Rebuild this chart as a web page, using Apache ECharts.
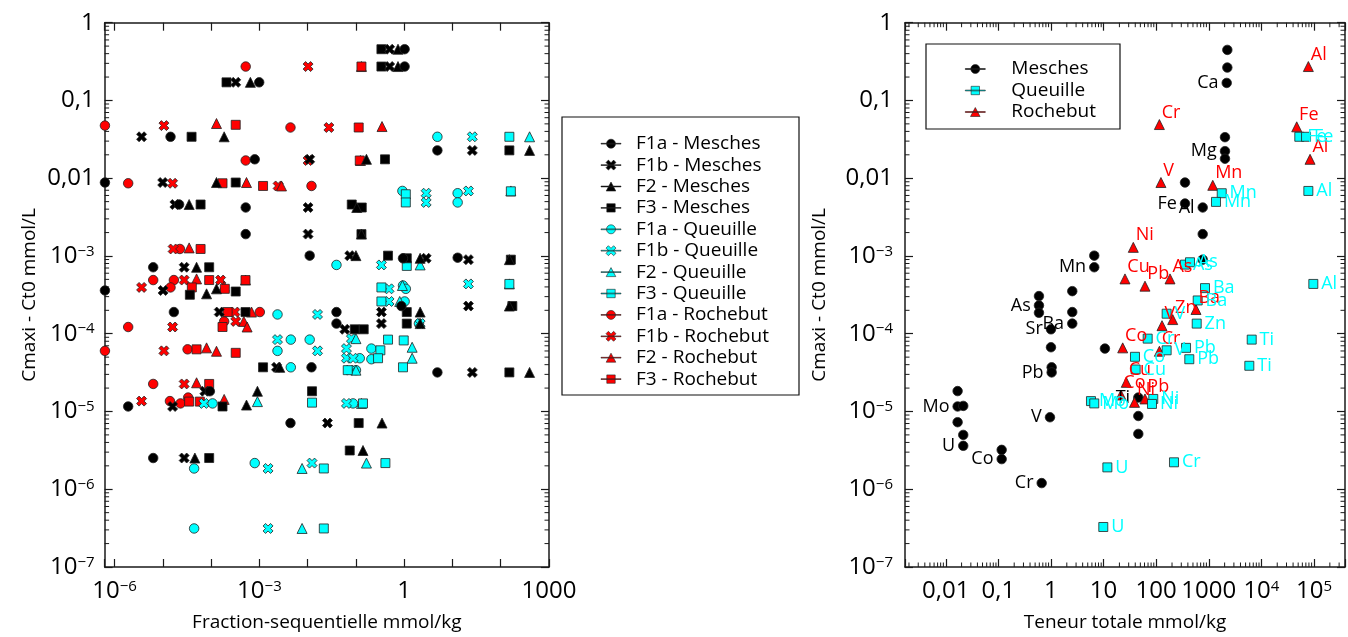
<!DOCTYPE html>
<html>
<head>
<meta charset="utf-8">
<script src="https://cdn.jsdelivr.net/npm/echarts@6/dist/echarts.min.js"></script>
<style>html,body{margin:0;padding:0;background:#fff;}#c{width:1348px;height:637px;}</style>
</head>
<body>
<div id="c"></div>
<script>
// ---------- Left panel: fraction-sequentielle vs Cmaxi-Ct0 ----------
const mesF1a = [[1.02,0.456],[1.02,0.273],[9.9e-4,0.171],[1.44e-5,0.0341],[4.87,0.0228],[8.0e-4,0.0175],[6.3e-7,0.0088],[2.17e-5,0.00459],[5.2e-4,0.0042],[5.2e-4,0.00191],[0.011,0.00101],[0.944,0.000934],[12.8,0.00095],[6.3e-6,0.000716],[6.3e-7,0.00036],[1.69e-5,0.00019],[0.0395,0.00019],[0.875,0.000227],[0.0395,0.000135],[0.012,3.7e-5],[4.87,3.18e-5],[1.91e-6,1.16e-5],[9.4e-5,1.82e-5],[4.4e-3,7.1e-6],[6.3e-6,2.52e-6]];
const mesF1b = [[0.50,0.456],[0.50,0.273],[3.23e-4,0.171],[3.62e-6,0.0341],[25.8,0.0228],[0.011,0.0175],[9.9e-6,0.0088],[1.77e-5,0.00459],[0.0102,0.0042],[0.0102,0.00191],[0.0744,0.00101],[2.85,0.000934],[21.4,0.000897],[2.76e-5,0.000716],[1.01e-5,0.00036],[1.47e-4,0.00019],[0.337,0.00019],[21.4,0.000227],[0.337,0.000135],[2.26e-3,3.7e-5],[25.8,3.18e-5],[1.59e-5,1.16e-5],[7.4e-5,1.82e-5],[0.0257,7.1e-6],[2.76e-5,2.52e-6],[0.0586,0.000114]];
const mesF2 = [[0.744,0.456],[0.744,0.273],[6.5e-4,0.171],[1.86e-4,0.0341],[396,0.0228],[0.165,0.0175],[1.29e-4,0.0088],[3.5e-5,0.00459],[0.104,0.0042],[0.13,0.00191],[0.1,0.00101],[2.14,0.000934],[151,0.000897],[4.99e-5,0.000716],[8.04e-5,0.000326],[1.29e-4,0.000378],[2.14,0.00019],[151,0.000227],[2.14,0.000135],[2.64e-3,3.7e-5],[396,3.18e-5],[5.4e-4,1.21e-5],[9.1e-4,1.82e-5],[0.347,7.1e-6],[4.6e-5,2.52e-6],[0.14,3.15e-6]];
const mesF3 = [[0.337,0.456],[0.337,0.273],[2.08e-4,0.171],[3.93e-5,0.0341],[151,0.0228],[0.40,0.0175],[3.23e-4,0.0088],[6.04e-5,0.00459],[0.132,0.0042],[0.13,0.00191],[0.462,0.00101],[1.13,0.000934],[162,0.000897],[9.1e-5,0.000716],[3.62e-5,0.000317],[3.23e-4,0.000349],[5.15e-4,0.00019],[1.13,0.00019],[174,0.000227],[1.13,0.000135],[1.19e-3,3.7e-5],[151,3.18e-5],[1.72e-4,1.16e-5],[0.0123,1.82e-5],[0.114,7.1e-6],[9.1e-5,2.52e-6],[0.0744,3.15e-6],[0.0944,0.000114],[0.145,0.000114],[0.0819,0.00459]];
const queF1a = [[4.87,0.0341],[0.918,0.00686],[12.8,0.00641],[12.8,0.00488],[0.0395,0.000767],[0.944,0.000417],[1.08,0.000378],[2.37e-3,0.000177],[4.47e-3,8.4e-5],[0.011,8.4e-5],[2.37e-3,6.02e-5],[4.47e-3,3.7e-5],[0.209,6.44e-5],[0.12,4.84e-5],[0.209,4.7e-5],[1.07e-4,1.27e-5],[0.0871,1.27e-5],[4.44e-5,1.85e-6],[8.0e-4,2.17e-6],[4.44e-5,3.13e-7],[1.02,0.00026],[2.02,0.000135],[0.1,3.4e-5]];
const queF1b = [[25.8,0.0341],[2.85,0.00641],[2.85,0.00488],[21.4,0.00686],[0.337,0.000767],[0.485,0.000378],[0.485,0.00026],[21.4,0.000437],[0.016,0.000177],[2.37e-3,8.4e-5],[0.016,6.02e-5],[0.0807,8.65e-5],[0.0636,6.44e-5],[0.0636,4.84e-5],[0.0871,4.84e-5],[0.0744,3.4e-5],[0.0636,1.27e-5],[7.07e-5,1.27e-5],[1.51e-3,1.85e-6],[0.0123,2.17e-6],[1.51e-3,3.13e-7],[2.14,0.000135]];
const queF2 = [[396,0.0341],[162,0.00686],[2.14,0.000767],[151,0.000437],[0.807,0.00026],[0.918,0.000417],[0.1,8.65e-5],[1.46,6.7e-5],[1.46,4.84e-5],[0.1,3.4e-5],[0.13,1.27e-5],[9.1e-4,1.34e-5],[7.66e-3,1.85e-6],[0.165,2.17e-6],[7.66e-3,3.13e-7]];
const queF3 = [[151,0.0341],[1.08,0.00622],[1.08,0.00488],[162,0.00679],[1.13,0.000745],[151,0.000437],[0.337,0.000394],[0.337,0.00026],[0.462,8.4e-5],[0.977,8.2e-5],[0.321,6.12e-5],[0.287,4.84e-5],[0.944,3.7e-5],[0.0676,3.4e-5],[0.14,1.27e-5],[0.0123,1.3e-5],[0.0216,1.85e-6],[0.408,2.17e-6],[0.0216,3.13e-7]];
const rocF1a = [[5.2e-4,0.273],[6.3e-7,0.0475],[4.4e-3,0.0449],[5.2e-4,0.0169],[1.91e-6,0.00861],[0.012,0.00795],[2.25e-5,0.00123],[6.3e-6,0.00049],[1.69e-5,0.00049],[1.44e-5,0.000394],[1.02e-3,0.00019],[1.91e-6,0.000122],[1.86e-4,0.000144],[6.3e-7,6.02e-5],[3.25e-5,6.3e-5],[6.3e-6,2.26e-5],[1.4e-5,1.36e-5],[2.32e-5,1.27e-5],[3.34e-5,1.51e-5]];
const rocF1b = [[0.0102,0.273],[1.05e-5,0.0475],[0.0275,0.0449],[0.0102,0.0169],[1.59e-5,0.00861],[2.44e-3,0.00795],[1.63e-5,0.00123],[2.76e-5,0.00049],[1.57e-4,0.00049],[3.62e-6,0.000394],[3.1e-4,0.00019],[1.59e-5,0.000122],[3.23e-4,0.000144],[1.05e-5,6.02e-5],[2.76e-5,2.26e-5],[3.62e-6,1.36e-5]];
const rocF2 = [[0.13,0.273],[1.29e-4,0.0505],[0.347,0.0462],[0.124,0.0169],[5.4e-4,0.0088],[2.87e-3,0.00795],[3.5e-5,0.00127],[4.99e-5,0.000507],[5.15e-4,0.00049],[1.86e-4,0.000409],[6.86e-4,0.00019],[4.75e-4,0.000144],[5.56e-4,0.000122],[8.04e-5,6.58e-5],[1.29e-4,5.95e-5],[4.99e-5,2.34e-5],[1.86e-4,1.43e-5]];
const rocF3 = [[0.13,0.273],[3.23e-4,0.0486],[0.114,0.0449],[0.12,0.0169],[1.72e-4,0.00861],[1.19e-3,0.00795],[6.04e-5,0.00123],[9.1e-5,0.00049],[5.15e-4,0.00049],[3.98e-5,0.000394],[1.92e-4,0.000378],[2.19e-4,0.00019],[1.72e-4,0.000122],[4.99e-5,6.3e-5],[3.23e-4,5.68e-5],[9.1e-5,2.26e-5],[3.5e-5,1.34e-5],[5.83e-5,1.34e-5]];

// ---------- Right panel: teneur totale vs Cmaxi-Ct0 (x, y, element label) ----------
const totMesches = [[2250,0.447,''],[2250,0.265,''],[2190,0.168,'Ca'],[2030,0.0337,''],[2030,0.0223,'Mg'],[2030,0.0178,''],[353,0.0088,''],[353,0.00473,'Fe'],[766,0.0042,'Al'],[766,0.00191,''],[766,0.000897,''],[10.6,6.44e-5,''],[45.7,1.51e-5,'Ti'],[45.7,8.75e-6,''],[45.7,5.15e-6,''],[6.65,0.00101,''],[6.65,0.000716,'Mn'],[2.54,3.53e-4,''],[2.54,1.9e-4,''],[2.54,1.35e-4,'Ba'],[0.591,3.05e-4,''],[0.591,2.31e-4,'As'],[0.591,1.86e-4,''],[1.0,1.14e-4,'Sr'],[1.0,6.7e-5,''],[1.03,3.7e-5,''],[1.03,3.18e-5,'Pb'],[0.957,8.43e-6,'V'],[0.0168,1.83e-5,''],[0.0168,1.16e-5,'Mo'],[0.0215,1.18e-5,''],[0.0168,7.28e-6,''],[0.0215,5.0e-6,''],[0.0215,3.62e-6,'U'],[0.1156,3.21e-6,''],[0.1156,2.44e-6,'Co'],[0.666,1.2e-6,'Cr']];
const totQueuille = [[52500,0.0341,'Fe'],[70500,0.0341,'Fe'],[78000,0.00686,'Al'],[1760,0.00641,'Mn'],[1370,0.00496,'Mn'],[353,7.74e-4,'As'],[439,8.3e-4,'As'],[847,3.86e-4,'Ba'],[615,2.68e-4,'Ba'],[158,1.81e-4,'V'],[589,1.35e-4,'Zn'],[68.9,8.65e-5,'Cr'],[158,6.12e-5,'V'],[369,6.58e-5,'Pb'],[426,4.7e-5,'Pb'],[39.5,5.05e-5,'Co'],[40.7,3.47e-5,'Cu'],[88,1.45e-5,'Ni'],[83.2,1.25e-5,'Ni'],[5.76,1.36e-5,'Mo'],[6.65,1.27e-5,'Mo'],[11.8,1.91e-6,'U'],[9.87,3.27e-7,'U'],[218,2.22e-6,'Cr'],[6540,8.4e-5,'Ti'],[5890,3.87e-5,'Ti'],[97000,4.37e-4,'Al']];
const totRochebut = [[78000,0.273,'Al'],[115,0.049,'Cr'],[46900,0.0458,'Fe'],[84000,0.0175,'Al'],[123,0.0088,'V'],[1190,0.0081,'Mn'],[36.7,0.00129,'Ni'],[25.5,5.07e-4,'Cu'],[61.2,4.09e-4,'Pb'],[183,5.07e-4,'As'],[571,2.05e-4,'Ba'],[206,1.52e-4,'Zn'],[129,1.27e-4,'V'],[23.1,6.58e-5,'Co'],[115,5.95e-5,'Cr'],[27,2.37e-5,'Cu'],[21.4,1.63e-5,'Co'],[38.7,1.31e-5,'Ni'],[61.2,1.45e-5,'Pb']];

// ---------- Axis ranges & tick labels ----------
const leftXRange = [6.2e-7, 1000];
const rightXRange = [1.68e-3, 3.88e5];
const yRange = [1e-7, 1];
const yTickLabels = {'0':'1','-1':'0,1','-2':'0,01'};
const leftXTickLabels = {'-6':'{b|10}{s|−6}','-3':'{b|10}{s|−3}','0':'1','3':'1000'};
const rightXTickLabels = {'-2':'0,01','-1':'0,1','0':'1','1':'10','2':'100','3':'1000','4':'{b|10}{s|4}','5':'{b|10}{s|5}'};
const minorMult = [2,3,4,5,6,7,8,9];
const yDecades = [-7,-6,-5,-4,-3,-2,-1];
const rightXDecades = [-3,-2,-1,0,1,2,3,4,5];

const FONT = 'Open Sans';
const CYAN = '#00FFFF', RED = '#FF0000', BLACK = '#000000';
const XPATH = 'path://M0,2.5L2.5,0L5,2.5L7.5,0L10,2.5L7.5,5L10,7.5L7.5,10L5,7.5L2.5,10L0,7.5L2.5,5Z';
const ICON = {
  circle: 'path://M0,4.6H20V5.4H0Z M14.5,5A4.5,4.5,0,1,1,5.5,5A4.5,4.5,0,1,1,14.5,5Z',
  cross: 'path://M0,4.6H20V5.4H0Z M5,2.4L7.4,0L10,2.6L12.6,0L15,2.4L12.4,5L15,7.6L12.6,10L10,7.4L7.4,10L5,7.6L7.6,5Z',
  tri: 'path://M0,4.6H20V5.4H0Z M10,0.5L14.8,9.5H5.2Z',
  rect: 'path://M0,4.6H20V5.4H0Z M5.8,0.8H14.2V9.2H5.8Z'
};

function expOf(v){ const l = Math.log10(v); const e = Math.round(l); return Math.abs(l-e) < 1e-6 ? e : null; }
function yFmt(v){ const e = expOf(v); if (e === null) return ''; return yTickLabels[e] !== undefined ? yTickLabels[e] : '{b|10}{s|−' + (-e) + '}'; }
function lxFmt(v){ const e = expOf(v); if (e === null) return ''; return leftXTickLabels[e] || ''; }
function rxFmt(v){ const e = expOf(v); if (e === null) return ''; return rightXTickLabels[e] || ''; }

const rich = { b:{fontSize:24, fontFamily:FONT, color:'#000'}, s:{fontSize:15, fontFamily:FONT, color:'#000', verticalAlign:'top'} };
const lineCol = '#1a1a1a';
function axis(extra){
  return Object.assign({
    type:'log', logBase:10, splitNumber:10,
    axisLine:{show:true, onZero:false, lineStyle:{color:lineCol, width:1.5}},
    axisTick:{show:true, inside:true, length:8, lineStyle:{color:lineCol, width:1.2}},
    splitLine:{show:false}, minorTick:{show:false},
    axisLabel:{show:false}
  }, extra);
}
const nameStyle = {fontSize:19, fontFamily:FONT, color:'#000'};

function minorValues(decades, lo, hi){
  const out = [];
  decades.forEach(d => minorMult.forEach(m => { const v = m*Math.pow(10,d); if (v > lo && v < hi) out.push(v); }));
  return out;
}
function tickSeries(gi, yVals, xVals, xRef, yRef){
  const data = yVals.map(v => [xRef, v, 0]).concat(xVals.map(v => [v, yRef, 1]));
  return {
    type:'custom', xAxisIndex:gi*2, yAxisIndex:gi*2, silent:true, z:1, data, encode:{x:0,y:1},
    renderItem(params, api){
      const cs = params.coordSys; const p = api.coord([api.value(0), api.value(1)]); const L = 4.5;
      const st = () => ({stroke:lineCol, lineWidth:1});
      if (api.value(2) === 0) {
        return {type:'group', children:[
          {type:'line', shape:{x1:cs.x, y1:p[1], x2:cs.x+L, y2:p[1]}, style:st()},
          {type:'line', shape:{x1:cs.x+cs.width-L, y1:p[1], x2:cs.x+cs.width, y2:p[1]}, style:st()}]};
      }
      return {type:'group', children:[
        {type:'line', shape:{x1:p[0], y1:cs.y+cs.height, x2:p[0], y2:cs.y+cs.height-L}, style:st()},
        {type:'line', shape:{x1:p[0], y1:cs.y, x2:p[0], y2:cs.y+L}, style:st()}]};
    }
  };
}

function leftSeries(name, data, symbol, size, color){
  return {type:'scatter', name, data, xAxisIndex:0, yAxisIndex:0, symbol, symbolSize:size, z:3,
    itemStyle:{color, borderColor:'#222', borderWidth:0.8, opacity:1}, emphasis:{disabled:true}};
}
function rightSeries(name, rows, symbol, size, color, labelOpt){
  return {type:'scatter', name, data: rows.map(r => [r[0], r[1], r[2]]), xAxisIndex:2, yAxisIndex:2,
    symbol, symbolSize:size, z:3,
    itemStyle:{color, borderColor:'#222', borderWidth:0.8, opacity:1}, emphasis:{disabled:true},
    label:Object.assign({show:true, formatter:p => p.value[2], color, fontSize:18, fontFamily:FONT}, labelOpt)};
}

const leftNames = ['F1a - Mesches','F1b - Mesches','F2 - Mesches','F3 - Mesches','F1a - Queuille','F1b - Queuille','F2 - Queuille','F3 - Queuille','F1a - Rochebut','F1b - Rochebut','F2 - Rochebut','F3 - Rochebut'];
const leftIcons = [ICON.circle, ICON.cross, ICON.tri, ICON.rect, ICON.circle, ICON.cross, ICON.tri, ICON.rect, ICON.circle, ICON.cross, ICON.tri, ICON.rect];

const option = {
  animation:false,
  textStyle:{fontFamily:FONT},
  grid:[
    {left:104.6, top:22.7, width:444.4, height:546.6},
    {left:905, top:22.7, width:440, height:546.6}
  ],
  xAxis:[
    axis({gridIndex:0, position:'bottom', min:leftXRange[0], max:leftXRange[1],
      axisLabel:{show:true, interval:0, formatter:lxFmt, fontSize:24, fontFamily:FONT, color:'#000', margin:12, rich, hideOverlap:false},
      name:'Fraction-sequentielle mmol/kg', nameLocation:'middle', nameGap:46, nameTextStyle:nameStyle}),
    axis({gridIndex:0, position:'top', min:leftXRange[0], max:leftXRange[1]}),
    axis({gridIndex:1, position:'bottom', min:rightXRange[0], max:rightXRange[1],
      axisLabel:{show:true, interval:0, formatter:rxFmt, fontSize:24, fontFamily:FONT, color:'#000', margin:12, rich, hideOverlap:false},
      name:'Teneur totale mmol/kg', nameLocation:'middle', nameGap:46, nameTextStyle:nameStyle}),
    axis({gridIndex:1, position:'top', min:rightXRange[0], max:rightXRange[1]})
  ],
  yAxis:[
    axis({gridIndex:0, position:'left', min:yRange[0], max:yRange[1],
      axisLabel:{show:true, interval:0, formatter:yFmt, fontSize:24, fontFamily:FONT, color:'#000', margin:10, rich, hideOverlap:false},
      name:'Cmaxi - Ct0 mmol/L', nameLocation:'middle', nameGap:66, nameTextStyle:nameStyle}),
    axis({gridIndex:0, position:'right', min:yRange[0], max:yRange[1]}),
    axis({gridIndex:1, position:'left', min:yRange[0], max:yRange[1],
      axisLabel:{show:true, interval:0, formatter:yFmt, fontSize:24, fontFamily:FONT, color:'#000', margin:12, rich, hideOverlap:false},
      name:'Cmaxi - Ct0 mmol/L', nameLocation:'middle', nameGap:76, nameTextStyle:nameStyle}),
    axis({gridIndex:1, position:'right', min:yRange[0], max:yRange[1]})
  ],
  legend:[
    {orient:'vertical', left:595.7, top:128.7, itemWidth:20, itemHeight:10, itemGap:1.4, selectedMode:false,
     itemStyle:{borderWidth:0.6},
     data:leftNames.map((n,i) => ({name:n, icon:leftIcons[i]})),
     textStyle:{fontSize:19, fontFamily:FONT, color:'#000', padding:[0,0,0,10], lineHeight:20}},
    {orient:'vertical', left:960, top:54, itemWidth:20, itemHeight:10, itemGap:1.5, selectedMode:false,
     itemStyle:{borderWidth:0.6},
     data:[{name:'Mesches', icon:ICON.circle},{name:'Queuille', icon:ICON.rect},{name:'Rochebut', icon:ICON.tri}],
     textStyle:{fontSize:19, fontFamily:FONT, color:'#000', padding:[0,0,0,21], lineHeight:20}}
  ],
  graphic:[
    {type:'rect', shape:{x:562, y:117, width:237, height:278}, style:{fill:'none', stroke:'#111', lineWidth:1.2}, z:0},
    {type:'rect', shape:{x:926, y:44, width:194, height:85}, style:{fill:'none', stroke:'#111', lineWidth:1.2}, z:0}
  ],
  series:[
    tickSeries(0, minorValues(yDecades, yRange[0], yRange[1]), [], 1, 1e-3),
    tickSeries(1, minorValues(yDecades, yRange[0], yRange[1]), minorValues(rightXDecades, rightXRange[0], rightXRange[1]), 1, 1e-3),
    leftSeries('F1a - Rochebut', rocF1a, 'circle', 9.5, RED),
    leftSeries('F1b - Rochebut', rocF1b, XPATH, 10, RED),
    leftSeries('F2 - Rochebut', rocF2, 'triangle', 10, RED),
    leftSeries('F3 - Rochebut', rocF3, 'rect', 9, RED),
    leftSeries('F1a - Queuille', queF1a, 'circle', 9.5, CYAN),
    leftSeries('F1b - Queuille', queF1b, XPATH, 10, CYAN),
    leftSeries('F2 - Queuille', queF2, 'triangle', 10, CYAN),
    leftSeries('F3 - Queuille', queF3, 'rect', 9, CYAN),
    leftSeries('F3 - Mesches', mesF3, 'rect', 9, BLACK),
    leftSeries('F1b - Mesches', mesF1b, XPATH, 10, BLACK),
    leftSeries('F2 - Mesches', mesF2, 'triangle', 10, BLACK),
    leftSeries('F1a - Mesches', mesF1a, 'circle', 9.5, BLACK),
    rightSeries('Mesches', totMesches, 'circle', 9.5, BLACK, {position:'left', distance:3}),
    rightSeries('Rochebut', totRochebut, 'triangle', 10, RED, {position:'right', distance:0, offset:[-3,-12]}),
    rightSeries('Queuille', totQueuille, 'rect', 9, CYAN, {position:'right', distance:3})
  ]
};
const chart = echarts.init(document.getElementById('c'), null, {renderer:'canvas'});
chart.setOption(option);
</script>
</body>
</html>
